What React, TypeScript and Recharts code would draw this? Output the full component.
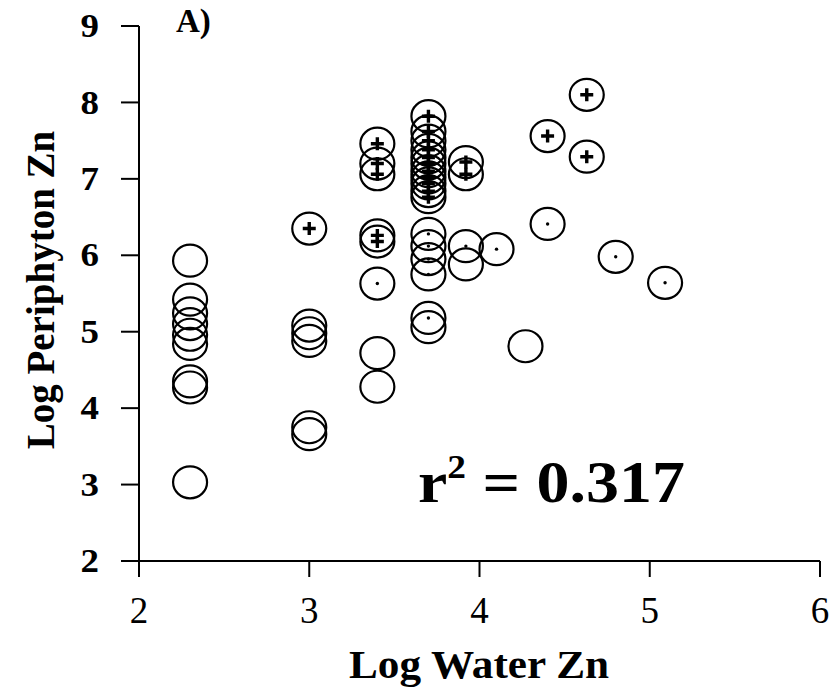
import { Scatter, ScatterChart, XAxis, YAxis } from "recharts";

// open circles, no inner mark
const plainPts = [
  { x: 2.3, y: 5.93 },
  { x: 2.3, y: 5.42 },
  { x: 2.3, y: 5.24 },
  { x: 2.3, y: 5.1 },
  { x: 2.3, y: 4.96 },
  { x: 2.3, y: 4.84 },
  { x: 2.3, y: 4.35 },
  { x: 2.3, y: 4.27 },
  { x: 2.3, y: 3.03 },
  { x: 3.0, y: 5.08 },
  { x: 3.0, y: 4.98 },
  { x: 3.0, y: 4.88 },
  { x: 3.0, y: 3.75 },
  { x: 3.0, y: 3.66 },
  { x: 3.4, y: 4.72 },
  { x: 3.4, y: 4.28 },
  { x: 3.7, y: 5.06 },
  { x: 3.92, y: 5.88 },
  { x: 4.27, y: 4.81 },
];

// circles with a "+" inside
const plusPts = [
  { x: 3.0, y: 6.35 },
  { x: 3.4, y: 7.46 },
  { x: 3.4, y: 7.2 },
  { x: 3.4, y: 7.06 },
  { x: 3.4, y: 6.26 },
  { x: 3.4, y: 6.18 },
  { x: 3.7, y: 7.82 },
  { x: 3.7, y: 7.62 },
  { x: 3.7, y: 7.5 },
  { x: 3.7, y: 7.38 },
  { x: 3.7, y: 7.28 },
  { x: 3.7, y: 7.2 },
  { x: 3.7, y: 7.1 },
  { x: 3.7, y: 7.02 },
  { x: 3.7, y: 6.94 },
  { x: 3.7, y: 6.84 },
  { x: 3.7, y: 6.76 },
  { x: 3.92, y: 7.22 },
  { x: 3.92, y: 7.06 },
  { x: 4.4, y: 7.56 },
  { x: 4.63, y: 8.1 },
  { x: 4.63, y: 7.29 },
];

// circles with a small dot inside
const dotPts = [
  { x: 3.4, y: 5.63 },
  { x: 3.7, y: 6.28 },
  { x: 3.7, y: 6.12 },
  { x: 3.7, y: 5.95 },
  { x: 3.7, y: 5.75 },
  { x: 3.7, y: 5.18 },
  { x: 3.92, y: 6.12 },
  { x: 4.1, y: 6.08 },
  { x: 4.4, y: 6.41 },
  { x: 4.8, y: 5.98 },
  { x: 5.09, y: 5.64 },
];

const xTicks = [2, 3, 4, 5, 6];
const yTicks = [2, 3, 4, 5, 6, 7, 8, 9];

const SERIF = "'Liberation Serif', 'Times New Roman', serif";

const ring = (kind: "plain" | "plus" | "dot") => (props: any) => {
  const { cx, cy } = props;
  return (
    <g>
      <ellipse cx={cx} cy={cy} rx={17} ry={16} fill="none" stroke="#000" strokeWidth={2.2} />
      {kind === "plus" && (
        <path
          d={`M${cx - 6.5},${cy}H${cx + 6.5}M${cx},${cy - 6.5}V${cy + 6.5}`}
          stroke="#000"
          strokeWidth={3.4}
        />
      )}
      {kind === "dot" && <circle cx={cx} cy={cy} r={1.7} fill="#000" />}
    </g>
  );
};

const XTick = ({ x, y, payload }: any) => (
  <text
    x={x}
    y={y}
    dy="0.71em"
    textAnchor="middle"
    fontFamily={SERIF}
    fontSize={37}
    fill="#000"
  >
    {payload.value}
  </text>
);

const YTick = ({ x, y, payload }: any) => (
  <text
    x={x}
    y={y}
    dy="0.34em"
    textAnchor="end"
    fontFamily={SERIF}
    fontSize={33}
    fontWeight="bold"
    fill="#000"
    transform={`translate(${x} 0) scale(1.12 1) translate(${-x} 0)`}
  >
    {payload.value}
  </text>
);

export default function App() {
  return (
    <div
      style={{
        position: "absolute",
        left: 0,
        top: 0,
        width: 831,
        height: 691,
        background: "#fff",
        fontFamily: SERIF,
      }}
    >
      <ScatterChart
        width={831}
        height={691}
        margin={{ top: 26, right: 11, left: 0, bottom: 0 }}
      >
        <XAxis
          type="number"
          dataKey="x"
          domain={[2, 6]}
          ticks={xTicks}
          height={130}
          axisLine={{ stroke: "#000", strokeWidth: 2 }}
          tickLine={{ stroke: "#000", strokeWidth: 2 }}
          tickSize={16}
          tickMargin={20}
          tick={<XTick />}
          allowDataOverflow
        />
        <YAxis
          type="number"
          dataKey="y"
          domain={[2, 9]}
          ticks={yTicks}
          width={139}
          axisLine={{ stroke: "#000", strokeWidth: 2 }}
          tickLine={{ stroke: "#000", strokeWidth: 2 }}
          tickSize={18}
          tickMargin={22}
          tick={<YTick />}
          allowDataOverflow
        />
        <Scatter data={plainPts} shape={ring("plain")} isAnimationActive={false} />
        <Scatter data={plusPts} shape={ring("plus")} isAnimationActive={false} />
        <Scatter data={dotPts} shape={ring("dot")} isAnimationActive={false} />
      </ScatterChart>

      <div
        style={{
          position: "absolute",
          left: 40,
          top: 290,
          transform: "translate(-50%, -50%) rotate(-90deg)",
          fontSize: 39,
          fontWeight: "bold",
          whiteSpace: "nowrap",
          lineHeight: 1,
        }}
      >
        Log Periphyton Zn
      </div>
      <div
        style={{
          position: "absolute",
          left: 479,
          top: 665,
          transform: "translate(-50%, -50%) scaleX(1.08)",
          fontSize: 40,
          fontWeight: "bold",
          whiteSpace: "nowrap",
          lineHeight: 1,
        }}
      >
        Log Water Zn
      </div>
      <div
        style={{
          position: "absolute",
          left: 176,
          top: 21,
          transform: "translateY(-50%)",
          fontSize: 33,
          fontWeight: "bold",
          lineHeight: 1,
        }}
      >
        A)
      </div>
      <div
        style={{
          position: "absolute",
          left: 418,
          top: 482,
          transform: "translateY(-50%) scaleX(1.1)",
          transformOrigin: "left center",
          fontSize: 60,
          fontWeight: "bold",
          whiteSpace: "nowrap",
          lineHeight: 1,
        }}
      >
        r<sup style={{ fontSize: 34, verticalAlign: "top", position: "relative", top: -2 }}>2</sup> = 0.317
      </div>
    </div>
  );
}
